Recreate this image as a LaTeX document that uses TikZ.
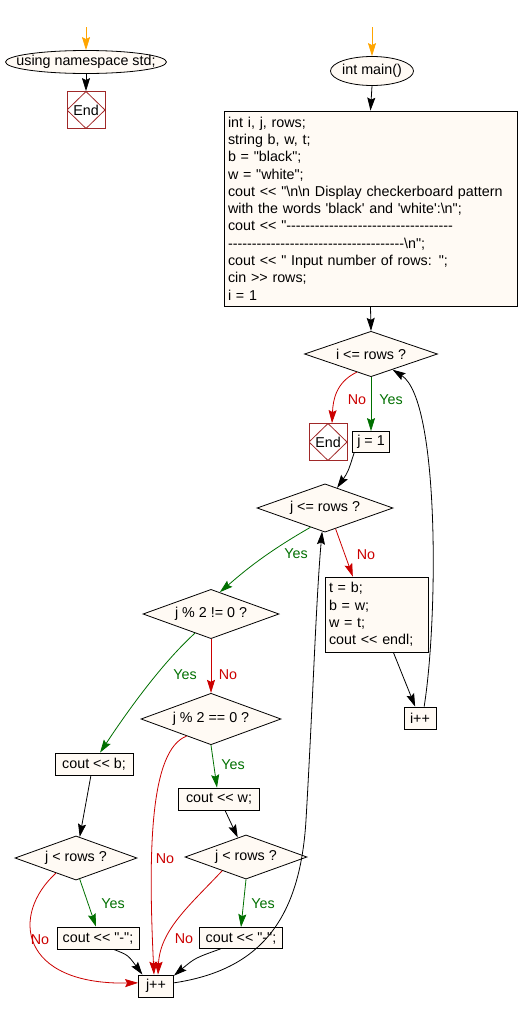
\documentclass[tikz,border=0pt]{standalone}
\usepackage{fontspec}
\setmainfont{Liberation Sans}[Ligatures=TeXOff]
\usetikzlibrary{arrows.meta,shapes.geometric}

\definecolor{boxfill}{RGB}{255,250,244}
\definecolor{yesgreen}{RGB}{0,112,0}
\definecolor{nored}{RGB}{204,0,0}
\definecolor{endred}{RGB}{160,40,40}
\definecolor{startorange}{RGB}{255,165,0}

\begin{document}
\begin{tikzpicture}[x=1pt, y=-1pt,
  every node/.style={font=\fontsize{14.3}{17.3}\selectfont, inner sep=0pt},
  proc/.style={draw, fill=boxfill, line width=0.8pt, minimum height=22pt},
  cond/.style={diamond, draw, fill=boxfill, line width=0.8pt, aspect=2},
  term/.style={ellipse, draw, fill=boxfill, line width=0.8pt, inner xsep=-30pt, inner ysep=-4pt},
  endbox/.style={draw=endred, fill=white, line width=0.8pt, minimum width=38pt, minimum height=37pt,
    path picture={\draw[endred, line width=0.8pt] (path picture bounding box.north)
      -- (path picture bounding box.east) -- (path picture bounding box.south)
      -- (path picture bounding box.west) -- cycle;}},
  flow/.style={line width=0.8pt, -{Stealth[length=13pt, width=8pt, inset=2pt]}},
  yesflow/.style={flow, draw=yesgreen},
  noflow/.style={flow, draw=nored},
  startflow/.style={flow, draw=startorange},
  yeslbl/.style={text=yesgreen},
  nolbl/.style={text=nored}]

\fill[white] (0,0) rectangle (520,1012);
\useasboundingbox (0,0) rectangle (520,1012);

% namespace (top left)
\coordinate (topL) at (86,27);
\node[term, minimum width=161pt, minimum height=23pt] (startL) at (86,62) {using namespace std;};
\node[endbox] (endL) at (86,110) {End};

% main (top right)
\coordinate (topR) at (372,27);
\node[term, minimum width=83pt, minimum height=29pt] (mainE) at (372,71) {int main()};
\node[proc, text width=285pt, align=left, inner xsep=4pt, minimum height=195pt] (initB) at (370.5,208.5) {
  int i, j, rows;\\
  string b, w, t;\\
  b = "black";\\
  w = "white";\\
  cout << "\textbackslash n\textbackslash n Display checkerboard pattern\\
  with the words 'black' and 'white':\textbackslash n";\\
  cout << "-----------------------------------\\
  -------------------------------------\textbackslash n";\\
  cout << " Input number of rows: ";\\
  cin >> rows;\\
  i = 1};

% outer loop
\node[cond, minimum width=133pt, minimum height=44pt] (iCond) at (371,354) {i <= rows ?};
\node[endbox] (endR) at (328,442) {End};
\node[proc, minimum width=37pt, minimum height=21pt] (jInit) at (371,442) {j = 1};
\node[cond, minimum width=136pt, minimum height=46pt] (jCond) at (325,508) {j <= rows ?};
\node[proc, text width=95pt, align=left, inner xsep=4pt, minimum height=75pt] (swapB) at (376.5,614.5) {
  t = b;\\
  b = w;\\
  w = t;\\
  cout << endl;};
\node[proc, minimum width=32pt] (iInc) at (420,718) {i++};

% inner loop
\node[cond, minimum width=136pt, minimum height=44pt] (oddCond) at (211,614) {j \% 2 != 0 ?};
\node[cond, minimum width=140pt, minimum height=44pt] (evenCond) at (211,719) {j \% 2 == 0 ?};
\node[proc, minimum width=78pt] (outB) at (94,764) {cout << b;};
\node[cond, minimum width=122pt, minimum height=44pt] (lastL) at (76,858) {j < rows ?};
\node[proc, minimum width=82pt] (dashL) at (98,938) {cout << "-";};
\node[proc, minimum width=81pt] (outW) at (219,799) {cout << w;};
\node[cond, minimum width=122pt, minimum height=44pt] (lastR) at (246,857) {j < rows ?};
\node[proc, minimum width=83pt, minimum height=21pt] (dashR) at (241,938) {cout << "-";};
\node[proc, minimum width=35pt] (jInc) at (156,986) {j++};

% labels
\node[yeslbl] (yes1) at (391,400) {Yes};
\node[nolbl] (no1) at (357,400) {No};
\node[yeslbl] (yes2) at (296,554) {Yes};
\node[nolbl] (no2) at (366,555) {No};
\node[yeslbl] (yes3) at (185,675) {Yes};
\node[nolbl] (no3) at (228,675) {No};
\node[yeslbl] (yes4) at (233,765) {Yes};
\node[nolbl] (no4) at (165,859) {No};
\node[yeslbl] (yes5) at (113,904) {Yes};
\node[nolbl] (no5) at (40,940) {No};
\node[yeslbl] (yes6) at (263,904) {Yes};
\node[nolbl] (no6) at (184,939) {No};

% connectors
\draw[startflow] (topL) -- (startL.north);
\draw[flow] (startL.south) -- (endL.north);
\draw[startflow] (topR) -- (mainE.north);
\draw[flow] (mainE.south) -- (initB.north);
\draw[flow] (initB.south) -- (iCond.north);
\draw[noflow] (iCond.232) .. controls (336,382) and (333,400) .. (endR.78);
\draw[yesflow] (iCond.south) -- (jInit.north);
\draw[flow] ([xshift=2pt]jInit.south west) .. controls (348,472) .. (jCond.59);
\draw[yesflow] (jCond.233) .. controls (262,555) and (240,575) .. (oddCond.68);
\draw[noflow] (jCond.-63) -- (swapB.122);
\draw[flow] (swapB.-66) -- (iInc.113);
\draw[flow] (iInc.70) .. controls (438,620) and (440,400) .. (iCond.-36);
\draw[noflow] (oddCond.south) -- (evenCond.north);
\draw[yesflow] (oddCond.230) .. controls (160,665) and (125,715) .. (outB.62);
\draw[yesflow] (evenCond.south) -- (outW.100);
\draw[noflow] (evenCond.215) .. controls (150,750) and (148,850) .. (jInc.100);
\draw[flow] (outB.-105) -- (lastL.80);
\draw[yesflow] (lastL.-80) -- (dashL.100);
\draw[noflow] (lastL.217) .. controls (10,915) and (20,985) .. (jInc.170);
\draw[flow] (dashL.-36) .. controls (128,955) .. (jInc.140);
\draw[flow] (outW.-62) -- (lastR.113);
\draw[yesflow] (lastR.south) -- (dashR.north);
\draw[noflow] (lastR.210) .. controls (190,905) and (160,930) .. (jInc.80);
\draw[flow] (dashR.-152) .. controls (195,958) .. (jInc.30);
\draw[flow] (jInc.10) .. controls (260,970) and (300,920) .. (306,820)
  .. controls (313,700) and (316,600) .. (jCond.-97);

\end{tikzpicture}
\end{document}
